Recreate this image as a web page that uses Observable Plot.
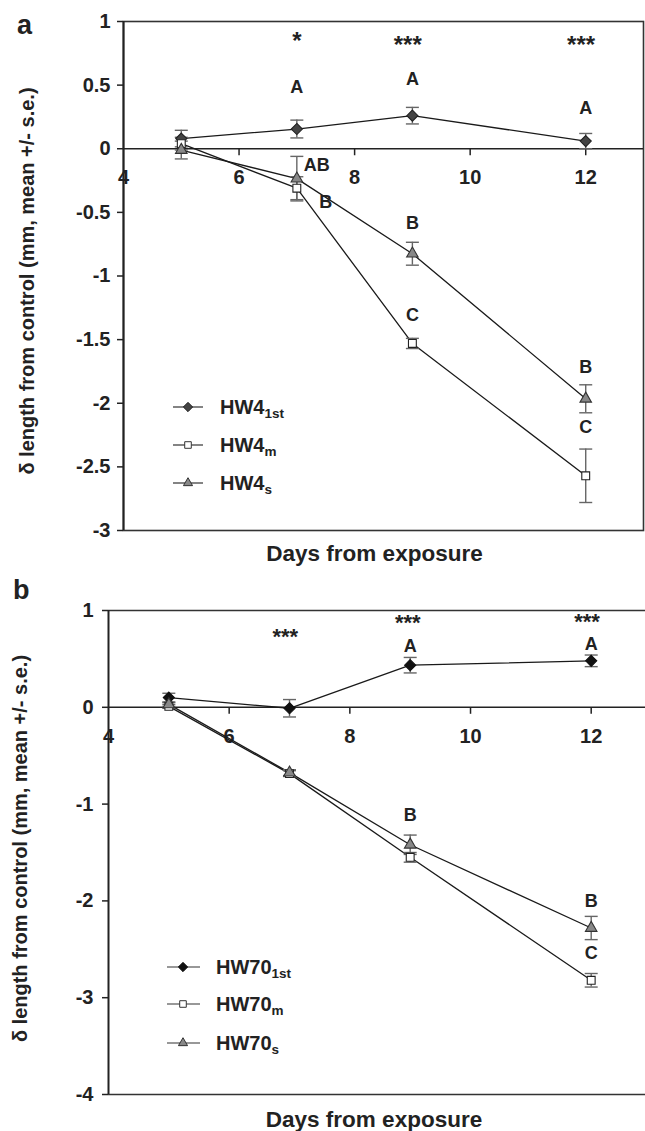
<!DOCTYPE html>
<html><head><meta charset="utf-8">
<script src="https://cdn.jsdelivr.net/npm/d3@7"></script>
<script src="https://cdn.jsdelivr.net/npm/@observablehq/plot@0.6"></script>
<style>
html,body{margin:0;padding:0;background:#fff;}
body{width:645px;height:1131px;overflow:hidden;font-family:"Liberation Sans",Arial,sans-serif;color:#222;}
#wrap{position:relative;width:645px;height:1131px;}
.panel{position:absolute;left:0;}
.plab{position:absolute;font-weight:bold;font-size:27px;line-height:1;color:#222;}
.leg{position:absolute;font-weight:bold;font-size:20px;line-height:1;color:#222;white-space:nowrap;}
.leg sub{font-size:13.5px;vertical-align:-4px;line-height:0;}
.legsym{position:absolute;}
</style>
</head><body><div id="wrap"></div>
<script>
// ---------- data ----------
const days = [5, 7, 9, 12];
const xTicks = [4, 6, 8, 10, 12];

// Panel a (HW4)
const aYTicks = [1, 0.5, 0, -0.5, -1, -1.5, -2, -2.5, -3];
const a1stMean = [0.08, 0.155, 0.26, 0.06];
const a1stSE   = [0.065, 0.07, 0.065, 0.06];
const amMean   = [0.04, -0.31, -1.53, -2.57];
const amSE     = [0.05, 0.09, 0.04, 0.21];
const asMean   = [-0.01, -0.235, -0.825, -1.965];
const asSE     = [0.07, 0.175, 0.09, 0.11];
const aLetterDay = [7, 9, 9, 9, 12, 12, 12, 7.5];
const aLetterVal = [0.484, 0.544, -0.588, -1.31, 0.32, -1.72, -2.19, -0.42];
const aLetterTxt = ["A", "A", "B", "C", "A", "B", "C", "B"];
const aStartDay = [7.12];
const aStartVal = [-0.13];
const aStartTxt = ["AB"];
const aStarDay = [7, 8.92, 11.92];
const aStarVal = [0.845, 0.81, 0.81];
const aStarTxt = ["*", "***", "***"];
const aLegend = [["HW4", "1st"], ["HW4", "m"], ["HW4", "s"]];

// Panel b (HW70)
const bYTicks = [1, 0, -1, -2, -3, -4];
const b1stMean = [0.1, -0.01, 0.435, 0.48];
const b1stSE   = [0.045, 0.09, 0.08, 0.06];
const bmMean   = [0.01, -0.685, -1.55, -2.82];
const bmSE     = [0.02, 0.03, 0.05, 0.07];
const bsMean   = [0.03, -0.675, -1.42, -2.28];
const bsSE     = [0.02, 0.03, 0.1, 0.12];
const bLetterDay = [9, 12, 9, 12, 12];
const bLetterVal = [0.628, 0.648, -1.118, -2.003, -2.54];
const bLetterTxt = ["A", "A", "B", "B", "C"];
const bStarDay = [6.93, 8.96, 11.93];
const bStarVal = [0.73, 0.876, 0.886];
const bStarTxt = ["***", "***", "***"];
const bLegend = [["HW70", "1st"], ["HW70", "m"], ["HW70", "s"]];

const yLabel = "δ length from control (mm, mean +/- s.e.)";
const xLabel = "Days from exposure";

// ---------- helpers ----------
const capSym = {draw(ctx, size){ const r = Math.sqrt(size/Math.PI); ctx.moveTo(-r,0); ctx.lineTo(r,0); }};
const tickDown = {draw(ctx, size){ const r = Math.sqrt(size/Math.PI); ctx.moveTo(0,0); ctx.lineTo(0,r); }};
const rowsOf = (m, s) => days.map((d,i) => ({day:d, mean:m[i], se:s[i]}));
const zip3 = (a,b,c) => a.map((v,i)=>({x:v, y:b[i], t:c[i]}));

function panel(cfg){
  const series = cfg.series;
  const marks = [];
  if (cfg.fullFrame) marks.push(Plot.frame({stroke:"#333", strokeWidth:1.6}));
  else marks.push(Plot.ruleY([cfg.yDomain[0], cfg.yDomain[1]], {stroke:"#333", strokeWidth:1.6}));
  marks.push(Plot.ruleX([cfg.xDomain[0]], {stroke:"#222", strokeWidth:2}));
  marks.push(Plot.ruleY([0], {stroke:"#222", strokeWidth:1.6}));
  marks.push(Plot.dot(xTicks.slice(1), {x:d=>d, y:()=>0, symbol:tickDown, r:6.5, stroke:"#222", strokeWidth:1.5, fill:"none"}));
  marks.push(Plot.text(xTicks, {x:d=>d, y:()=>0, text:d=>String(d), dy:29, fontSize:20, lineAnchor:"middle", fill:"#222"}));
  marks.push(Plot.axisY({ticks:cfg.yTicks, tickSize:6, tickPadding:cfg.tickPadding, tickFormat:d=>String(d), fontSize:20, label:null, stroke:"#222", strokeWidth:1.5}));
  for (const s of series) marks.push(Plot.line(s.rows, {x:"day", y:"mean", stroke:"#1a1a1a", strokeWidth:1.3}));
  for (const s of series) {
    marks.push(Plot.ruleX(s.rows, {x:"day", y1:d=>d.mean-d.se, y2:d=>d.mean+d.se, stroke:"#666", strokeWidth:1.4}));
    const caps = s.rows.flatMap(d => [{day:d.day, v:d.mean+d.se}, {day:d.day, v:d.mean-d.se}]);
    marks.push(Plot.dot(caps, {x:"day", y:"v", symbol:capSym, r:6.5, stroke:"#666", strokeWidth:1.4, fill:"none"}));
  }
  for (const s of series) marks.push(Plot.dot(s.rows, {x:"day", y:"mean", symbol:s.symbol, r:s.r, fill:s.fill, stroke:s.stroke, strokeWidth:1.1}));
  marks.push(Plot.text(cfg.letters, {x:"x", y:"y", text:"t", fontSize:18, lineAnchor:"middle", fill:"#222"}));
  if (cfg.startLetters) marks.push(Plot.text(cfg.startLetters, {x:"x", y:"y", text:"t", fontSize:18, lineAnchor:"middle", textAnchor:"start", fill:"#222"}));
  marks.push(Plot.text(cfg.stars, {x:"x", y:"y", text:"t", fontSize:cfg.starSize, lineAnchor:"middle", fill:"#222"}));
  marks.push(Plot.text([yLabel], {frameAnchor:"left", textAnchor:"middle", rotate:-90, dx:cfg.yLabelDx, dy:cfg.yLabelDy, fontSize:20, lineAnchor:"middle", fill:"#222"}));
  marks.push(Plot.text([xLabel], {frameAnchor:"bottom", textAnchor:"middle", dx:cfg.xLabelDx, dy:cfg.xLabelDy, fontSize:22.5, lineAnchor:"middle", fill:"#222"}));

  return Plot.plot({
    width:645, height:cfg.height,
    marginLeft:cfg.marginLeft, marginRight:cfg.marginRight, marginTop:cfg.marginTop, marginBottom:cfg.marginBottom,
    x:{domain:cfg.xDomain, axis:null},
    y:{domain:cfg.yDomain},
    style:{fontFamily:"'Liberation Sans', Arial, sans-serif", fontWeight:"bold", color:"#222", background:"transparent", overflow:"visible"},
    marks
  });
}

const wrap = document.getElementById("wrap");

function legend(items, symbols, lineX0, lineX1, markX, rowsY, textX){
  items.forEach((it, i) => {
    const sv = d3.create("svg").attr("class","legsym").attr("width",60).attr("height",20)
      .style("left", (lineX0-2)+"px").style("top", (rowsY[i]-10)+"px");
    sv.append("line").attr("x1",2).attr("x2",2+lineX1-lineX0).attr("y1",10).attr("y2",10).attr("stroke","#333").attr("stroke-width",1.2);
    const s = symbols[i];
    sv.append("path").attr("d", d3.symbol(s.type, s.size)()).attr("transform",`translate(${2+markX-lineX0},10)`)
      .attr("fill", s.fill).attr("stroke", s.stroke).attr("stroke-width",1);
    wrap.appendChild(sv.node());
    const t = document.createElement("div");
    t.className = "leg";
    t.style.left = textX+"px"; t.style.top = (rowsY[i]-10)+"px";
    t.innerHTML = it[0] + "<sub>" + it[1] + "</sub>";
    wrap.appendChild(t);
  });
}

const pa = panel({
  height:566, marginLeft:123, marginRight:2, marginTop:21, marginBottom:36,
  xDomain:[4,13], yDomain:[-3,1], yTicks:aYTicks, tickPadding:7, fullFrame:true, starSize:24,
  series:[
    {rows:rowsOf(a1stMean,a1stSE), symbol:"diamond2", r:5, fill:"#444", stroke:"#222"},
    {rows:rowsOf(amMean,amSE), symbol:"square2", r:5, fill:"#fff", stroke:"#222"},
    {rows:rowsOf(asMean,asSE), symbol:"triangle2", r:5.5, fill:"#888", stroke:"#333"}
  ],
  letters:zip3(aLetterDay,aLetterVal,aLetterTxt),
  startLetters:zip3(aStartDay,aStartVal,aStartTxt),
  stars:zip3(aStarDay,aStarVal,aStarTxt),
  yLabelDx:-96, yLabelDy:5, xLabelDx:-9, xLabelDy:23
});
pa.classList.add("panel"); pa.style.top = "0px";
wrap.appendChild(pa);

const pb = panel({
  height:565, marginLeft:108, marginRight:0, marginTop:44, marginBottom:37,
  xDomain:[4,12.9], yDomain:[-4,1], yTicks:bYTicks, tickPadding:9, fullFrame:false, starSize:22,
  series:[
    {rows:rowsOf(b1stMean,b1stSE), symbol:"diamond2", r:5, fill:"#111", stroke:"#111"},
    {rows:rowsOf(bmMean,bmSE), symbol:"square2", r:5, fill:"#fff", stroke:"#222"},
    {rows:rowsOf(bsMean,bsSE), symbol:"triangle2", r:5.5, fill:"#888", stroke:"#333"}
  ],
  letters:zip3(bLetterDay,bLetterVal,bLetterTxt),
  stars:zip3(bStarDay,bStarVal,bStarTxt),
  yLabelDx:-88, yLabelDy:-4, xLabelDx:-3, xLabelDy:25
});
pb.classList.add("panel"); pb.style.top = "566px";
wrap.appendChild(pb);

const la = document.createElement("div"); la.className="plab"; la.textContent="a"; la.style.left="17px"; la.style.top="12px"; wrap.appendChild(la);
const lb = document.createElement("div"); lb.className="plab"; lb.textContent="b"; lb.style.left="13px"; lb.style.top="577px"; wrap.appendChild(lb);

legend(aLegend, [
  {type:d3.symbolDiamond2, size:55, fill:"#444", stroke:"#222"},
  {type:d3.symbolSquare2, size:55, fill:"#fff", stroke:"#333"},
  {type:d3.symbolTriangle2, size:60, fill:"#888", stroke:"#333"}
], 173, 203, 188, [407, 445, 483], 220);
legend(bLegend, [
  {type:d3.symbolDiamond2, size:55, fill:"#111", stroke:"#111"},
  {type:d3.symbolSquare2, size:55, fill:"#fff", stroke:"#333"},
  {type:d3.symbolTriangle2, size:60, fill:"#888", stroke:"#333"}
], 167, 200, 183, [967, 1004, 1043], 216);
</script>
</body></html>
